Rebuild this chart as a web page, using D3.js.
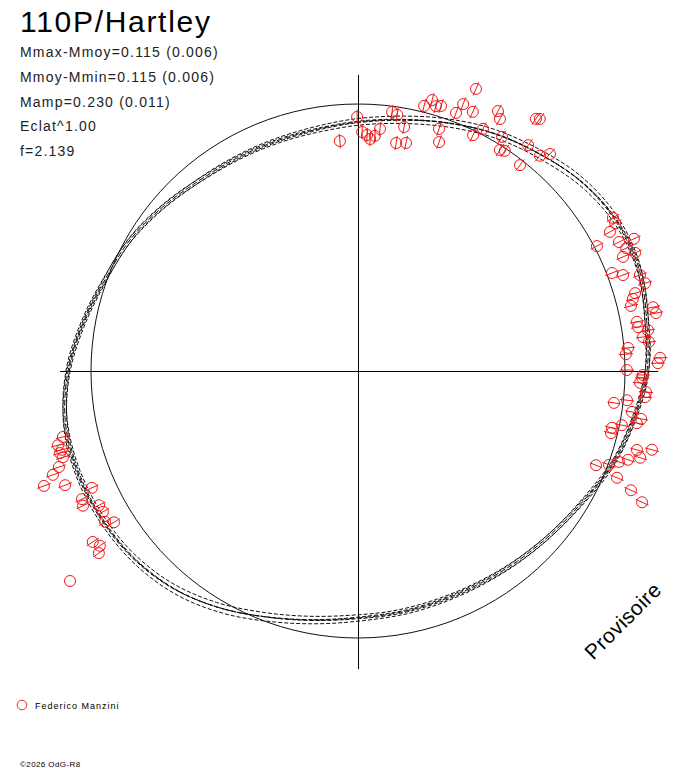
<!DOCTYPE html>
<html>
<head>
<meta charset="utf-8">
<script src="https://cdn.jsdelivr.net/npm/d3@7"></script>
<style>
  body { margin: 0; background: #fff; }
  text { font-family: "Liberation Sans", Arial, sans-serif; fill: #000; }
</style>
</head>
<body>
<script>
// header texts
var titleText = "110P/Hartley";
var statLines = [
  "Mmax-Mmoy=0.115 (0.006)",
  "Mmoy-Mmin=0.115 (0.006)",
  "Mamp=0.230 (0.011)",
  "Eclat^1.00",
  "f=2.139"
];

// fitted light curve: phase (deg) and magnitude offset from mean (mag)
var modelPhase = [0, 10, 20, 30, 40, 50, 60, 70, 80, 90, 100, 110, 120, 130, 140, 150, 160, 170,
  180, 190, 200, 210, 220, 230, 240, 250, 260, 270, 280, 290, 300, 310, 320, 330, 340, 350];
var modelMag = [-0.075, -0.050, -0.013, 0.029, 0.067, 0.109, 0.134, 0.134, 0.109, 0.092, 0.054, 0.017,
  -0.029, -0.059, -0.079, -0.092, -0.096, -0.092, -0.084, -0.059, -0.021, 0.029, 0.075, 0.105,
  0.121, 0.130, 0.126, 0.096, 0.050, 0.008, -0.017, -0.050, -0.079, -0.092, -0.096, -0.092];

// the band of solutions drawn around the fit
var bandOffset = [-0.011, -0.005, 0, 0.005, 0.011];
var bandShift = [1.5, -1, 0, 1, -1.5];

// observations: phase (deg), magnitude offset (mag), error (mag)
var obsPhase = [359.8, 355.5, 1.0, 2.2, 3.0, 5.2, 4.1, 7.5, 8.7, 10.7, 9.5, 11.9, 18.5, 19.5, 14.0, 15.3,
  16.4, 17.4, 20.8, 21.5, 23.9, 22.7, 26.0, 27.3, 28.3, 29.4, 31.6, 32.7, 33.7, 38.2, 35.2, 35.8, 37.0,
  40.2, 41.5,
  59.0, 60.1, 61.1, 63.7, 64.4, 62.4, 65.4, 66.9, 66.7, 68.9, 70.1, 71.2, 73.0, 74.3, 75.3, 76.6, 77.8,
  79.0, 80.0, 81.1, 82.0, 83.2, 84.3, 85.1, 86.4, 87.5, 88.5, 89.8, 90.8, 91.4, 92.4, 94.2, 95.2, 97.1,
  96.2, 98.5, 99.6, 100.6, 101.6, 102.6, 103.8, 105.8, 105.0, 107.1, 108.2, 109.2, 111.6, 110.5, 112.4,
  113.6, 114.8,
  257.4, 256.1, 255.1, 254.6, 253.7, 252.2, 251.2, 249.9, 248.7, 246.3, 245.1, 243.9, 242.6, 241.1,
  239.2, 238.2, 237.2, 235.9, 234.9, 233.9];
var obsMag = [-0.054, -0.152, -0.117, -0.129, -0.145, -0.100, -0.131, -0.024, -0.033, -0.078, -0.150,
  -0.142, -0.049, -0.101, 0.026, 0.058, 0.038, 0.045, 0.038, 0.083, 0.069, 0.162, -0.019, 0.023, 0.118,
  0.093, 0.033, -0.018, -0.010, -0.021, 0.174, 0.183, 0.066, 0.062, 0.095,
  0.127, 0.124, 0.087, 0.101, 0.163, 0.011, 0.117, 0.143, 0.090, 0.022, 0.062, 0.129, 0.139, 0.087,
  0.072, 0.057, 0.146, 0.153, 0.068, 0.069, 0.108, 0.084, 0.106, 0.017, 0.006, 0.148, 0.138, 0.008,
  0.075, 0.072, 0.064, 0.091, 0.089, -0.038, 0.015, 0.042, 0.084, 0.070, 0.010, -0.028, -0.027, 0.096,
  0.156, 0.118, 0.072, 0.039, -0.046, 0.004, 0.055, 0.129, 0.192,
  0.148, 0.176, 0.165, 0.176, 0.169, 0.197, 0.231, 0.282, 0.198, 0.099, 0.156, 0.164, 0.103, 0.102,
  0.115, 0.084, 0.203, 0.187, 0.208, 0.374];
var obsErr = [0.03, 0.03, 0.03, 0.03, 0.03, 0.03, 0.03, 0.03, 0.03, 0.03, 0.03, 0.03, 0.03, 0.03, 0.03,
  0.03, 0.03, 0.03, 0.03, 0.03, 0.03, 0.03, 0.03, 0.03, 0.03, 0.03, 0.03, 0.03, 0.03, 0.03, 0.03, 0.03,
  0.03, 0.03, 0.03,
  0.03, 0.03, 0.03, 0.03, 0.03, 0.03, 0.03, 0.03, 0.03, 0.03, 0.03, 0.03, 0.03, 0.03, 0.03, 0.03, 0.03,
  0.03, 0.03, 0.03, 0.03, 0.03, 0.03, 0.03, 0.03, 0.03, 0.03, 0.03, 0.03, 0.03, 0.03, 0.03, 0.03, 0.027,
  0.03, 0.03, 0.03, 0.03, 0.03, 0.03, 0.03, 0.03, 0.03, 0.03, 0.03, 0.03, 0.027, 0.03, 0.03, 0.03, 0.03,
  0.03, 0.03, 0.03, 0.03, 0.03, 0.03, 0.03, 0.03, 0.03, 0.03, 0.03, 0.03, 0.03, 0.03, 0.03, 0.03, 0.03,
  0.03, 0.03, 0];

var observer = "Federico Manzini";
var copyright = "\u00a92026 OdG-R8";
var stamp = "Provisoire";

// set the dimensions of the graph
var width = 688,
  height = 768,
  cx = 358,
  cy = 371,
  axisMag = 0.13;

// set the ranges
var angle = d3.scaleLinear().domain([0, 360]).range([0, 2 * Math.PI]);
var radius = d3.scaleLinear().domain([0, 0.115]).range([267, 294.5]);

var svg = d3
  .select("body")
  .append("svg")
  .attr("width", width)
  .attr("height", height);

var plot = svg.append("g").attr("transform", "translate(" + cx + "," + cy + ")");

// axes through the centre
plot
  .append("line")
  .attr("x1", -radius(axisMag))
  .attr("x2", radius(axisMag) + 2)
  .attr("y1", 0.5)
  .attr("y2", 0.5)
  .attr("stroke", "#000");
plot
  .append("line")
  .attr("x1", 0.5)
  .attr("x2", 0.5)
  .attr("y1", -radius(axisMag) + 2)
  .attr("y2", radius(axisMag))
  .attr("stroke", "#000");

// mean magnitude circle
plot
  .append("circle")
  .attr("r", radius(0))
  .attr("fill", "none")
  .attr("stroke", "#111")
  .attr("stroke-width", 1);

// fitted curve band
var model = modelPhase.map(function (p, i) {
  return { phase: p, mag: modelMag[i] };
});
bandOffset.forEach(function (off, k) {
  var curve = d3
    .lineRadial()
    .angle(function (d) {
      return angle(d.phase + bandShift[k]);
    })
    .radius(function (d) {
      return radius(d.mag + off);
    })
    .curve(d3.curveCatmullRomClosed.alpha(0.5));
  plot
    .append("path")
    .datum(model)
    .attr("d", curve)
    .attr("fill", "none")
    .attr("stroke", "#111")
    .attr("stroke-width", 1)
    .attr("stroke-dasharray", k === 2 ? "6,2" : "4,2")
    .attr("stroke-dashoffset", k * 1.5);
});

// observations
var obs = obsPhase.map(function (p, i) {
  return { phase: p, mag: obsMag[i], err: obsErr[i] };
});

var dots = plot.selectAll(".obs").data(obs).enter().append("g").attr("class", "obs");

dots
  .filter(function (d) {
    return d.err > 0;
  })
  .append("line")
  .attr("x1", function (d) {
    return d3.pointRadial(angle(d.phase), radius(d.mag - d.err))[0];
  })
  .attr("y1", function (d) {
    return d3.pointRadial(angle(d.phase), radius(d.mag - d.err))[1];
  })
  .attr("x2", function (d) {
    return d3.pointRadial(angle(d.phase), radius(d.mag + d.err))[0];
  })
  .attr("y2", function (d) {
    return d3.pointRadial(angle(d.phase), radius(d.mag + d.err))[1];
  })
  .attr("stroke", "#f01818")
  .attr("stroke-width", 1);

dots
  .append("circle")
  .attr("cx", function (d) {
    return d3.pointRadial(angle(d.phase), radius(d.mag))[0];
  })
  .attr("cy", function (d) {
    return d3.pointRadial(angle(d.phase), radius(d.mag))[1];
  })
  .attr("r", 5.5)
  .attr("fill", "none")
  .attr("stroke", "#f01818")
  .attr("stroke-width", 1);

// title and statistics
svg
  .append("text")
  .attr("x", 20)
  .attr("y", 32)
  .style("font-size", "30px")
  .style("letter-spacing", "1.7px")
  .text(titleText);

svg
  .selectAll(".stat")
  .data(statLines)
  .enter()
  .append("text")
  .attr("class", "stat")
  .attr("x", 20)
  .attr("y", function (d, i) {
    return 57 + i * 24.8;
  })
  .style("font-size", "14px")
  .style("letter-spacing", "1.2px")
  .style("fill", "#222")
  .text(function (d) {
    return d;
  });

// stamp
svg
  .append("text")
  .attr("transform", "translate(628,626) rotate(-45)")
  .attr("text-anchor", "middle")
  .style("font-size", "21px")
  .style("letter-spacing", "0.5px")
  .text(stamp);

// legend
svg
  .append("circle")
  .attr("cx", 22)
  .attr("cy", 705)
  .attr("r", 4.8)
  .attr("fill", "none")
  .attr("stroke", "#e03030");
svg
  .append("text")
  .attr("x", 35)
  .attr("y", 709)
  .style("font-size", "9px")
  .style("letter-spacing", "1px")
  .text(observer);

svg
  .append("text")
  .attr("x", 20)
  .attr("y", 767)
  .style("font-size", "8px")
  .style("letter-spacing", "0.4px")
  .text(copyright);
</script>
</body>
</html>
